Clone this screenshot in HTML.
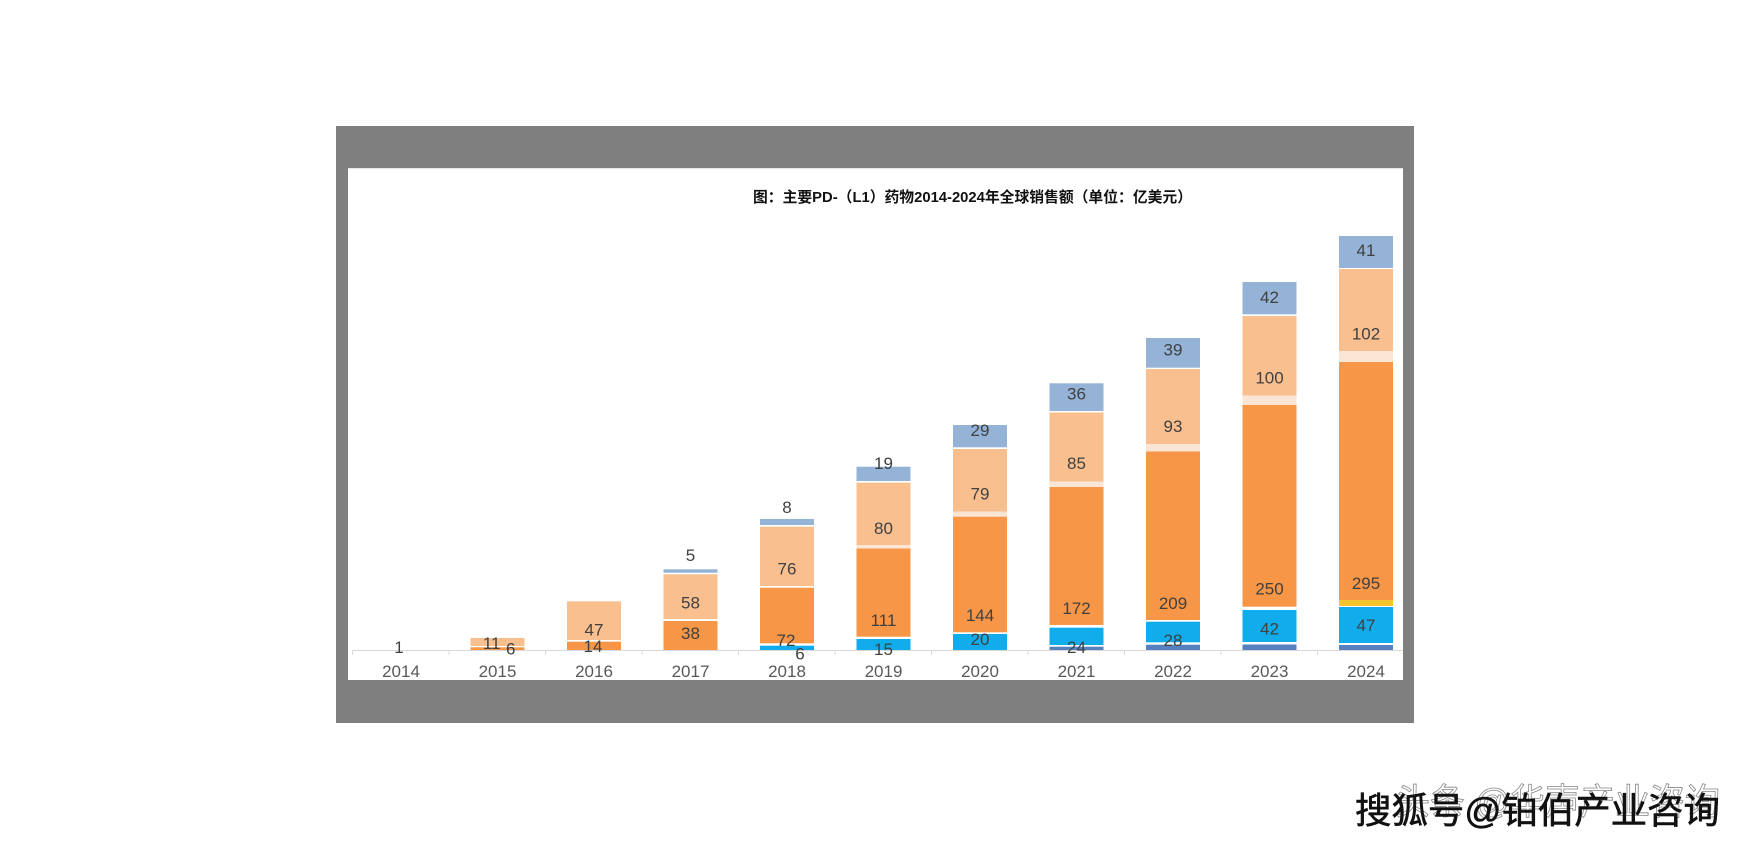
<!DOCTYPE html>
<html>
<head>
<meta charset="utf-8">
<style>
  html, body { margin: 0; padding: 0; background: #ffffff; }
  body { width: 1750px; height: 849px; overflow: hidden; }
  svg { display: block; }
  .lbl { font-family: "Liberation Sans", "Noto Sans CJK SC", sans-serif; font-size: 17px; fill: #404040; text-anchor: middle; }
  .yr { font-family: "Liberation Sans", "Noto Sans CJK SC", sans-serif; font-size: 17px; fill: #595959; text-anchor: middle; }
  .ttl { font-family: "Liberation Sans", "Noto Sans CJK SC", sans-serif; font-size: 15px; font-weight: bold; fill: #111111; }
  .wm { font-family: "Liberation Sans", "Noto Sans CJK SC", sans-serif; font-size: 36px; fill: #111111; stroke: #111111; stroke-width: 0.6px; }
  .wm2 { font-family: "Liberation Sans", "Noto Sans CJK SC", sans-serif; font-size: 36px; fill: #ffffff; stroke: #222222; stroke-width: 0.8px; opacity: 0.55; }
</style>
</head>
<body>
<svg width="1750" height="849" viewBox="0 0 1750 849" xmlns="http://www.w3.org/2000/svg">
  <rect x="0" y="0" width="1750" height="849" fill="#ffffff"/>
  <!-- gray frame -->
  <rect x="336" y="126" width="1078" height="597" fill="#7f7f7f"/>
  <!-- white panel -->
  <rect x="348" y="168" width="1055" height="512" fill="#ffffff"/>
  <line x1="348" y1="168.5" x2="1403" y2="168.5" stroke="#e6e6e6" stroke-width="1"/>

  <!-- title -->
  <text class="ttl" x="753" y="202" textLength="439" lengthAdjust="spacingAndGlyphs">图：主要PD-（L1）药物2014-2024年全球销售额（单位：亿美元）</text>

  <!-- bars -->
  <g>
    <!-- 2015 -->
    <rect x="470.5" y="638" width="54" height="8" fill="#fabf8f"/>
    <rect x="470.5" y="647.3" width="54" height="2.7" fill="#f79646"/>
    <!-- 2016 -->
    <rect x="567" y="601.3" width="54" height="38.7" fill="#fabf8f"/>
    <rect x="567" y="641.7" width="54" height="8.3" fill="#f79646"/>
    <!-- 2017 -->
    <rect x="663.5" y="569.3" width="54" height="3.4" fill="#95b3d7"/>
    <rect x="663.5" y="574.3" width="54" height="44.7" fill="#fabf8f"/>
    <rect x="663.5" y="621" width="54" height="29" fill="#f79646"/>
    <!-- 2018 -->
    <rect x="760" y="519" width="54" height="6" fill="#95b3d7"/>
    <rect x="760" y="526.7" width="54" height="59.3" fill="#fabf8f"/>
    <rect x="760" y="587.7" width="54" height="55.6" fill="#f79646"/>
    <rect x="760" y="645.7" width="54" height="4.3" fill="#10acec"/>
    <!-- 2019 -->
    <rect x="856.5" y="466.7" width="54" height="14.3" fill="#95b3d7"/>
    <rect x="856.5" y="482.7" width="54" height="62.3" fill="#fabf8f"/>
    <rect x="856.5" y="545" width="54" height="3.5" fill="#fbe6d6"/>
    <rect x="856.5" y="548.5" width="54" height="88.2" fill="#f79646"/>
    <rect x="856.5" y="639" width="54" height="11" fill="#10acec"/>
    <!-- 2020 -->
    <rect x="953" y="425" width="54" height="22.3" fill="#95b3d7"/>
    <rect x="953" y="449" width="54" height="62.7" fill="#fabf8f"/>
    <rect x="953" y="511.7" width="54" height="5" fill="#fbe6d6"/>
    <rect x="953" y="516.7" width="54" height="115.6" fill="#f79646"/>
    <rect x="953" y="634" width="54" height="16" fill="#10acec"/>
    <!-- 2021 -->
    <rect x="1049.5" y="383.3" width="54" height="27.7" fill="#95b3d7"/>
    <rect x="1049.5" y="412.5" width="54" height="69.2" fill="#fabf8f"/>
    <rect x="1049.5" y="481.7" width="54" height="5.3" fill="#fbe6d6"/>
    <rect x="1049.5" y="487" width="54" height="138" fill="#f79646"/>
    <rect x="1049.5" y="627.7" width="54" height="17.3" fill="#10acec"/>
    <rect x="1049.5" y="646.7" width="54" height="3.3" fill="#5581c1"/>
    <!-- 2022 -->
    <rect x="1146" y="338" width="54" height="29.7" fill="#95b3d7"/>
    <rect x="1146" y="369" width="54" height="75" fill="#fabf8f"/>
    <rect x="1146" y="444" width="54" height="7.5" fill="#fbe6d6"/>
    <rect x="1146" y="451.5" width="54" height="168.5" fill="#f79646"/>
    <rect x="1146" y="621.7" width="54" height="20.6" fill="#10acec"/>
    <rect x="1146" y="644.7" width="54" height="5.3" fill="#5581c1"/>
    <!-- 2023 -->
    <rect x="1242.5" y="282" width="54" height="32.3" fill="#95b3d7"/>
    <rect x="1242.5" y="316" width="54" height="79.7" fill="#fabf8f"/>
    <rect x="1242.5" y="395.7" width="54" height="9.3" fill="#fbe6d6"/>
    <rect x="1242.5" y="405" width="54" height="201.7" fill="#f79646"/>
    <rect x="1242.5" y="610" width="54" height="32" fill="#10acec"/>
    <rect x="1242.5" y="644.5" width="54" height="5.5" fill="#5581c1"/>
    <!-- 2024 -->
    <rect x="1339" y="236" width="54" height="32" fill="#95b3d7"/>
    <rect x="1339" y="269" width="54" height="82" fill="#fabf8f"/>
    <rect x="1339" y="351" width="54" height="11" fill="#fbe6d6"/>
    <rect x="1339" y="362" width="54" height="238" fill="#f79646"/>
    <rect x="1339" y="600" width="54" height="6" fill="#f5c42a"/>
    <rect x="1339" y="607" width="54" height="36" fill="#10acec"/>
    <rect x="1339" y="645" width="54" height="5" fill="#5581c1"/>
  </g>

  <!-- axis -->
  <line x1="352" y1="650.5" x2="1403" y2="650.5" stroke="#d9d9d9" stroke-width="1"/>
  <g stroke="#d9d9d9" stroke-width="1">
    <line x1="352.5" y1="650" x2="352.5" y2="655"/>
    <line x1="449" y1="650" x2="449" y2="655"/>
    <line x1="545.5" y1="650" x2="545.5" y2="655"/>
    <line x1="642" y1="650" x2="642" y2="655"/>
    <line x1="738.5" y1="650" x2="738.5" y2="655"/>
    <line x1="835" y1="650" x2="835" y2="655"/>
    <line x1="931.5" y1="650" x2="931.5" y2="655"/>
    <line x1="1028" y1="650" x2="1028" y2="655"/>
    <line x1="1124.5" y1="650" x2="1124.5" y2="655"/>
    <line x1="1221" y1="650" x2="1221" y2="655"/>
    <line x1="1317.5" y1="650" x2="1317.5" y2="655"/>
  </g>

  <!-- year labels -->
  <g>
    <text class="yr" x="401" y="677">2014</text>
    <text class="yr" x="497.5" y="677">2015</text>
    <text class="yr" x="594" y="677">2016</text>
    <text class="yr" x="690.5" y="677">2017</text>
    <text class="yr" x="787" y="677">2018</text>
    <text class="yr" x="883.5" y="677">2019</text>
    <text class="yr" x="980" y="677">2020</text>
    <text class="yr" x="1076.5" y="677">2021</text>
    <text class="yr" x="1173" y="677">2022</text>
    <text class="yr" x="1269.5" y="677">2023</text>
    <text class="yr" x="1366" y="677">2024</text>
  </g>

  <!-- data labels -->
  <g>
    <text class="lbl" x="399" y="653.1">1</text>
    <text class="lbl" x="491.7" y="648.8">11</text>
    <text class="lbl" x="510.7" y="654.4">6</text>
    <text class="lbl" x="594" y="635.4">47</text>
    <text class="lbl" x="593" y="652.1">14</text>
    <text class="lbl" x="690.5" y="561.1">5</text>
    <text class="lbl" x="690.5" y="608.4">58</text>
    <text class="lbl" x="690.5" y="638.8">38</text>
    <text class="lbl" x="787" y="512.8">8</text>
    <text class="lbl" x="787" y="574.4">76</text>
    <text class="lbl" x="786" y="646.1">72</text>
    <text class="lbl" x="800" y="659.4">6</text>
    <text class="lbl" x="883.5" y="468.8">19</text>
    <text class="lbl" x="883.5" y="533.8">80</text>
    <text class="lbl" x="883.5" y="626.1">111</text>
    <text class="lbl" x="883.5" y="655.1">15</text>
    <text class="lbl" x="980" y="436.1">29</text>
    <text class="lbl" x="980" y="499.4">79</text>
    <text class="lbl" x="980" y="621.1">144</text>
    <text class="lbl" x="980" y="645.1">20</text>
    <text class="lbl" x="1076.5" y="399.4">36</text>
    <text class="lbl" x="1076.5" y="468.8">85</text>
    <text class="lbl" x="1076.5" y="613.8">172</text>
    <text class="lbl" x="1076.5" y="652.8">24</text>
    <text class="lbl" x="1173" y="355.4">39</text>
    <text class="lbl" x="1173" y="431.8">93</text>
    <text class="lbl" x="1173" y="608.8">209</text>
    <text class="lbl" x="1173" y="646.1">28</text>
    <text class="lbl" x="1269.5" y="302.8">42</text>
    <text class="lbl" x="1269.5" y="383.4">100</text>
    <text class="lbl" x="1269.5" y="594.4">250</text>
    <text class="lbl" x="1269.5" y="634.4">42</text>
    <text class="lbl" x="1366" y="256.1">41</text>
    <text class="lbl" x="1366" y="339.4">102</text>
    <text class="lbl" x="1366" y="588.8">295</text>
    <text class="lbl" x="1366" y="631.1">47</text>
  </g>

  <!-- watermark -->
  <text class="wm2" x="1395" y="814" textLength="325" lengthAdjust="spacingAndGlyphs">头条 @华声产业咨询</text>
  <text class="wm" x="1355" y="823" textLength="365" lengthAdjust="spacingAndGlyphs">搜狐号@铂伯产业咨询</text>
</svg>
</body>
</html>
